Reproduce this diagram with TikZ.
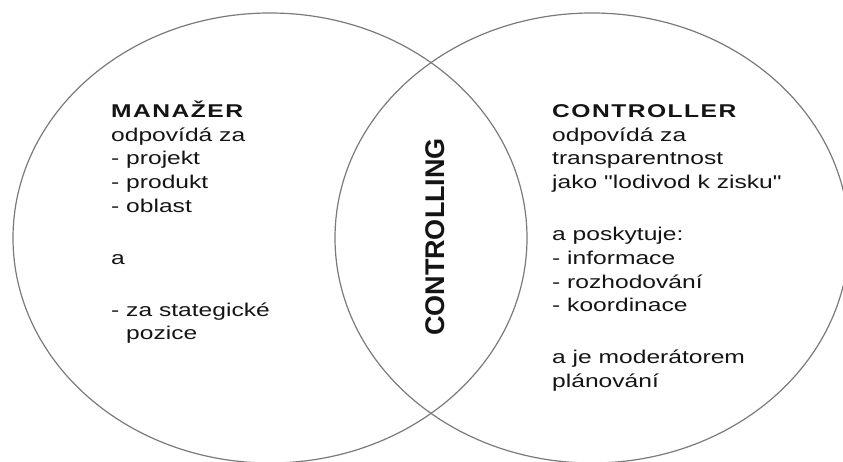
\documentclass[tikz,border=0pt]{standalone}
\usepackage{fontspec}
\setmainfont{Liberation Sans}
\newfontfamily\widefont[FakeStretch=1.33,BoldFeatures={LetterSpace=8}]{Liberation Sans}
\usetikzlibrary{shapes.geometric}
% fixed height of the first line of a text block
\newcommand{\firstline}{\rule{0pt}{17pt}}

\begin{document}
\begin{tikzpicture}[x=1pt,y=-1pt,
  role/.style={draw=black!52,line width=1.2pt,ellipse,minimum width=514pt,minimum height=450pt,inner sep=0pt},
  notes/.style={anchor=north west,align=left,inner sep=0pt,text=black!92,font=\widefont\fontsize{18.5}{23.8}\selectfont}]
\useasboundingbox (0,0) rectangle (843,462);
% the two overlapping roles
\node[role] (manager) at (270,238) {};
\node[role] (controller) at (592,238) {};
% the common part in the middle
\node[rotate=90,inner sep=0pt,text=black!92,font=\bfseries\fontsize{27}{27}\selectfont] (controlling) at (435,237) {CONTROLLING};
% left side
\node[notes] (managertext) at (111,100) {\firstline\textbf{MANAŽER}\\
  odpovídá za\\
  - projekt\\
  - produkt\\
  - oblast\\[28pt]
  a\\[28pt]
  - za stategické\\
  \phantom{- }pozice};
% right side
\node[notes] (controllertext) at (552,100) {\firstline\textbf{CONTROLLER}\\
  odpovídá za\\
  transparentnost\\
  jako "lodivod k zisku"\\[28pt]
  a poskytuje:\\
  - informace\\
  - rozhodování\\
  - koordinace\\[28pt]
  a je moderátorem\\
  plánování};
\end{tikzpicture}
\end{document}
